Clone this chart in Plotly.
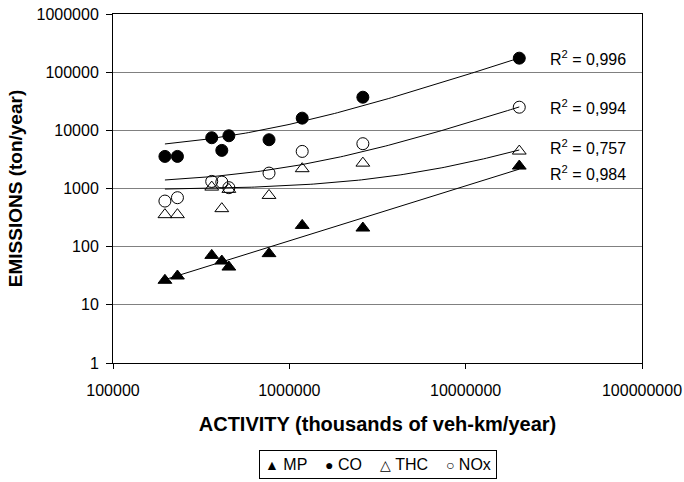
import numpy as np
import plotly.graph_objects as go

# Activity (thousands of veh-km/year)
activity = [197000, 232000, 363000, 414000, 454000, 767000, 1183000, 2612000, 20140000]

# Emissions (ton/year)
mp = [26.4, 31.3, 70.8, 56.6, 44.6, 75.9, 232, 209, 2430]
co = [3560, 3560, 7460, 4520, 8070, 6890, 16200, 37100, 174000]
thc = [355, 355, 1057, 450, 966, 760, 2190, 2730, 4400]
nox = [608, 695, 1324, 1290, 1033, 1840, 4340, 5890, 25000]

series_names = ["MP", "CO", "THC", "NOx"]
r2_labels = ["0,984", "0,996", "0,757", "0,994"]
legend_symbols = ["▲", "●", "△", "○"]

FONT = "Liberation Sans, Arial, sans-serif"

x = np.array(activity, dtype=float)
xfit = np.logspace(np.log10(x.min()), np.log10(x.max()), 120)

fig = go.Figure()

# trendlines: MP power, others linear
b, a = np.polyfit(np.log10(x), np.log10(np.array(mp)), 1)
fits = {"MP": 10 ** (a + b * np.log10(xfit))}
for name, ys in (("CO", co), ("THC", thc), ("NOx", nox)):
    m, c = np.polyfit(x, np.array(ys, dtype=float), 1)
    fits[name] = m * xfit + c

for name in series_names:
    fig.add_trace(go.Scatter(x=xfit, y=fits[name], mode="lines",
                             line=dict(color="black", width=1),
                             showlegend=False, hoverinfo="skip"))

styles = {
    "MP": "triangle-up",
    "CO": "circle",
    "THC": "triangle-up-open",
    "NOx": "circle-open",
}
data = {"MP": mp, "CO": co, "THC": thc, "NOx": nox}

for name in series_names:
    fig.add_trace(go.Scatter(x=activity, y=data[name], mode="markers", name=name,
                             marker=dict(symbol=styles[name], size=12, color="black",
                                         line=dict(color="black", width=1)),
                             showlegend=False))

# R^2 labels at the end of each trendline
r2_pos = {"CO": 57.5, "NOx": 107, "THC": 147, "MP": 173}
for name, lab in zip(series_names, r2_labels):
    py = r2_pos[name]
    yval = 6 - (py - 13.5) / 58.2
    fig.add_annotation(x=np.log10(x.max()), y=yval, xref="x", yref="y",
                       text=f"R<sup>2</sup> = {lab}", showarrow=False,
                       xanchor="left", yanchor="middle", xshift=29,
                       font=dict(family=FONT, size=16, color="black"))

# legend box (Excel-style)
nb = "\u00a0"
parts = []
for sym, name in zip(legend_symbols, series_names):
    parts.append(f'<span style="font-size:14px">{sym}</span>{nb}{name}')
legend_text = (nb * 4).join(parts)
fig.add_annotation(x=0.5, y=-0.25, xref="paper", yref="paper",
                   xanchor="center", yanchor="top", showarrow=False,
                   text=legend_text, bordercolor="black", borderwidth=1,
                   borderpad=5, bgcolor="white",
                   font=dict(family=FONT, size=16, color="black"))

fig.update_layout(
    width=684, height=482,
    margin=dict(l=113, r=42, t=14, b=119),
    paper_bgcolor="white", plot_bgcolor="white",
    font=dict(family=FONT, size=16, color="black"),
    showlegend=False,
)

fig.update_xaxes(type="log", range=[5, 8], showgrid=False, automargin=False,
                 tickvals=[1e5, 1e6, 1e7, 1e8],
                 ticktext=["100000", "1000000", "10000000", "100000000"],
                 ticks="outside", ticklen=5, tickcolor="black",
                 ticklabelstandoff=8,
                 showline=True, linecolor="black", linewidth=1, mirror=True,
                 title=dict(text="<b>ACTIVITY (thousands of veh-km/year)</b>",
                            font=dict(family=FONT, size=20), standoff=18),
                 tickfont=dict(family=FONT, size=16))
fig.update_yaxes(type="log", range=[0, 6], showgrid=True, gridcolor="#808080", gridwidth=1,
                 automargin=False,
                 tickvals=[1, 10, 100, 1000, 10000, 100000, 1000000],
                 ticktext=["1", "10", "100", "1000", "10000", "100000", "1000000"],
                 ticks="outside", ticklen=6, tickcolor="black",
                 ticklabelstandoff=4,
                 showline=True, linecolor="black", linewidth=1, mirror=True,
                 title=dict(text="<b>EMISSIONS (ton/year)</b>",
                            font=dict(family=FONT, size=19), standoff=8),
                 tickfont=dict(family=FONT, size=16))

fig.write_html("out.html")
